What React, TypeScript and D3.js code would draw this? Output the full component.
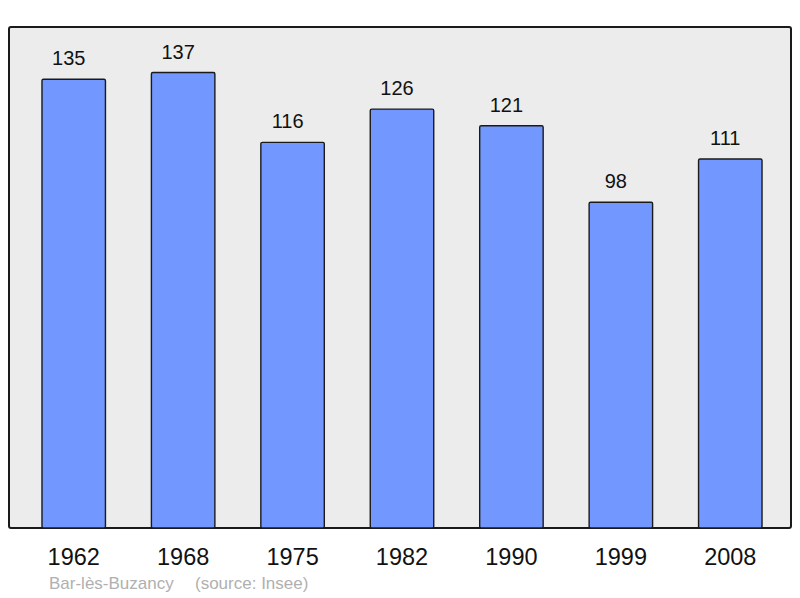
import { useEffect, useRef } from 'react';
import * as d3 from 'd3';

const years = ['1962', '1968', '1975', '1982', '1990', '1999', '2008'];
const population = [135, 137, 116, 126, 121, 98, 111];
const commune = 'Bar-lès-Buzancy';
const source = '(source: Insee)';

export default function App() {
  const svgRef = useRef<SVGSVGElement>(null);

  useEffect(() => {
    if (!svgRef.current) return;
    const width = 800;
    const height = 598;
    const box = { left: 9, top: 27, right: 791, bottom: 528 };
    const font = 'Liberation Sans, Arial, sans-serif';

    const svg = d3.select(svgRef.current);
    svg.selectAll('*').remove();
    svg.attr('width', width).attr('height', height);

    const x = d3.scaleBand<string>().domain(years).range([19, 785]).paddingInner(0.42).paddingOuter(0.21);
    const y = d3
      .scaleLinear()
      .domain([0, d3.max(population)! * 1.1])
      .range([box.bottom, box.top]);

    // Plot frame
    svg
      .append('rect')
      .attr('x', box.left)
      .attr('y', box.top)
      .attr('width', box.right - box.left)
      .attr('height', box.bottom - box.top)
      .attr('rx', 2)
      .attr('fill', '#ececec')
      .attr('stroke', '#1a1a1a')
      .attr('stroke-width', 2);

    // Bars
    svg
      .append('g')
      .selectAll('rect')
      .data(population)
      .join('rect')
      .attr('x', (_, i) => x(years[i])!)
      .attr('y', (d) => y(d))
      .attr('width', x.bandwidth())
      .attr('height', (d) => y(0) - y(d))
      .attr('rx', 1.5)
      .attr('fill', '#7298ff')
      .attr('stroke', '#1a1a1a')
      .attr('stroke-width', 1.4);

    // Value labels (sit a little left of the bar centre in the original)
    svg
      .append('g')
      .selectAll('text')
      .data(population)
      .join('text')
      .attr('x', (_, i) => x(years[i])! + x.bandwidth() / 2 - 5)
      .attr('y', (d) => y(d) - 14)
      .attr('text-anchor', 'middle')
      .attr('font-family', font)
      .attr('font-size', 20)
      .attr('fill', '#111')
      .text((d) => d);

    // Year labels
    svg
      .append('g')
      .selectAll('text')
      .data(years)
      .join('text')
      .attr('x', (d) => x(d)! + x.bandwidth() / 2)
      .attr('y', 565)
      .attr('text-anchor', 'middle')
      .attr('font-family', font)
      .attr('font-size', 23.5)
      .attr('fill', '#111')
      .text((d) => d);

    // Footer
    const footer = svg
      .append('text')
      .attr('y', 589)
      .attr('font-family', font)
      .attr('font-size', 17)
      .attr('fill', '#b0b0b0');
    footer.append('tspan').attr('x', 49).text(commune);
    footer.append('tspan').attr('x', 195).text(source);
  }, []);

  return <svg ref={svgRef} style={{ position: 'absolute', top: 0, left: 0, background: '#fff' }} />;
}
